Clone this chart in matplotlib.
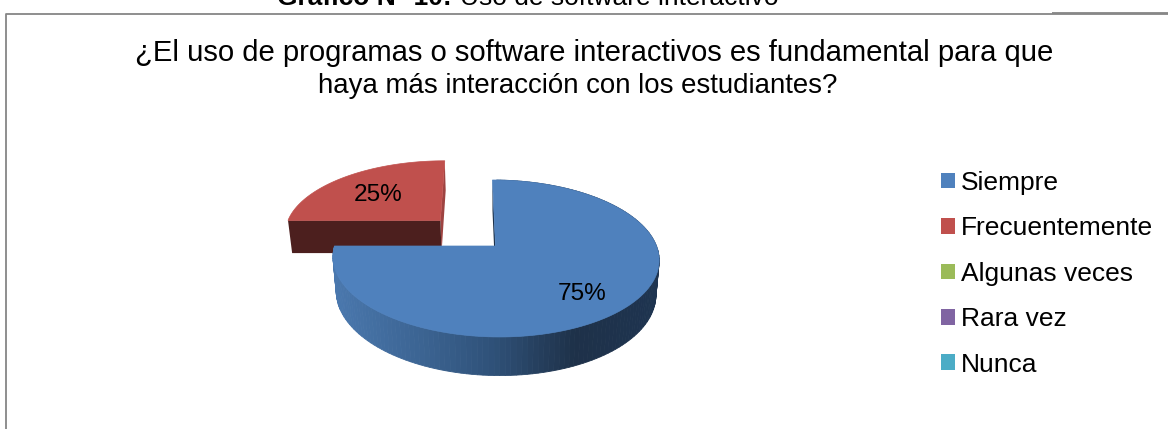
import numpy as np
import matplotlib
matplotlib.use("Agg")
import matplotlib.pyplot as plt
from matplotlib.colors import LinearSegmentedColormap
from matplotlib.patches import Patch

plt.rcParams["font.family"] = ["Liberation Sans", "DejaVu Sans"]

heading_bold = "Gráfico N° 10:"
heading_rest = "Uso de software interactivo"
title_lines = ["¿El uso de programas o software interactivos es fundamental para que",
               "haya más interacción con los estudiantes?"]
categories = ["Siempre", "Frecuentemente", "Algunas veces", "Rara vez", "Nunca"]
values = [75, 25, 0, 0, 0]
explode = [0, 0.5, 0, 0, 0]
colors = ["#4F81BD", "#C0504D", "#9BBB59", "#8064A2", "#4BACC6"]
blue_side = ["#4A78AE", "#3D6695", "#2F5178", "#1E3149", "#1E3450"]
red_front = "#4C1F1E"
red_cut = "#9E4341"

W, H = 1168, 429
CX, CY = 495.5, 246
RX, RY = 161, 76.5
PERSP = 0.159
SHEAR = 3.5
DEPTH = 34


def project(u, v, low=False):
    w = 1 / (1 - PERSP * v)
    if low:
        return CX + (0.98 * RX * u + SHEAR * v) * w, CY + (0.98 * RY * v + DEPTH) * w
    return CX + (RX * u + SHEAR * v) * w, CY + RY * v * w


def wedge_rim(start, sweep, offset):
    # clockwise from 12 o'clock; v grows towards the viewer
    t = np.radians(start + np.linspace(0, sweep, 160))
    mid = np.radians(start + sweep / 2)
    ox, oy = offset * np.sin(mid), -offset * np.cos(mid)
    return np.sin(t) + ox, -np.cos(t) + oy, ox, oy


fig = plt.figure(figsize=(W / 100, H / 100), dpi=100)
ax = fig.add_axes([0, 0, 1, 1])
ax.set_xlim(0, W)
ax.set_ylim(H, 0)
ax.axis("off")

# chart frame
ax.plot([6, 6, W], [H, 13.5, 13.5], color="#868686", lw=1.3, solid_capstyle="butt")
ax.plot([1052, W], [12.7, 12.7], color="#868686", lw=1.3, solid_capstyle="butt")

fig.text(277 / W, 1 - 5 / H, heading_bold, fontsize=19, fontweight="bold", va="baseline", ha="left")
fig.text(460 / W, 1 - 5 / H, heading_rest, fontsize=19, va="baseline", ha="left")

ax.text(594, 53, title_lines[0], fontsize=21.1, ha="center", va="center")
ax.text(578, 86, title_lines[1], fontsize=19.9, ha="center", va="center")

total = sum(values)
sweeps = [360 * x / total for x in values]
starts = np.cumsum([0] + sweeps[:-1])

# red slice first: it sits behind the blue one
for i in [1, 0]:
    start, sweep = starts[i], sweeps[i]
    u, v, ou, ov = wedge_rim(start, sweep, explode[i])
    x_top, y_top = project(u, v)
    x_low, y_low = project(u, v, low=True)
    ax_top, ay_top = project(np.array(ou), np.array(ov))
    ax_low, ay_low = project(np.array(ou), np.array(ov), low=True)

    if i == 0:
        # inner wall at 12 o'clock and the front rim with its shading
        ax.fill([x_top[0], ax_top, ax_low, x_low[0]], [y_top[0], ay_top, ay_low, y_low[0]],
                color="#1D3149", lw=0, zorder=3)
        ramp = LinearSegmentedColormap.from_list("side", blue_side)
        front = np.where((v > -0.05) | (u > 0))[0]
        lo, hi = x_top.min(), x_top.max()
        for a in front[:-1]:
            shade = ramp((x_top[a] - lo) / (hi - lo))
            ax.fill([x_top[a], x_top[a + 1], x_low[a + 1], x_low[a]],
                    [y_top[a], y_top[a + 1], y_low[a + 1], y_low[a]],
                    color=shade, lw=0.6, zorder=3)
    else:
        # cut faces of the exploded slice
        ax.fill([x_top[0], ax_top, ax_low, x_low[0]], [y_top[0], ay_top, ay_low, y_low[0]],
                color=red_front, lw=0, zorder=2)
        ax.fill([x_top[-1], ax_top, ax_low, x_low[-1]], [y_top[-1], ay_top, ay_low, y_low[-1]],
                color=red_cut, lw=0, zorder=1)

    ax.fill(np.r_[ax_top, x_top], np.r_[ay_top, y_top], color=colors[i], lw=0.5, zorder=4)

ax.text(582, 294, f"{values[0]}%", fontsize=17.6, ha="center", va="center", zorder=6)
ax.text(378, 195, f"{values[1]}%", fontsize=17.6, ha="center", va="center", zorder=6)

handles = [Patch(facecolor=c, edgecolor="none") for c in colors]
ax.legend(handles, categories, loc="upper left", bbox_to_anchor=(941 / W, 1 - 171 / H),
          frameon=False, fontsize=19, borderpad=0, borderaxespad=0,
          handlelength=0.53, handleheight=0.53, handletextpad=0.23, labelspacing=0.81)

fig.savefig("out.png", dpi=100)
